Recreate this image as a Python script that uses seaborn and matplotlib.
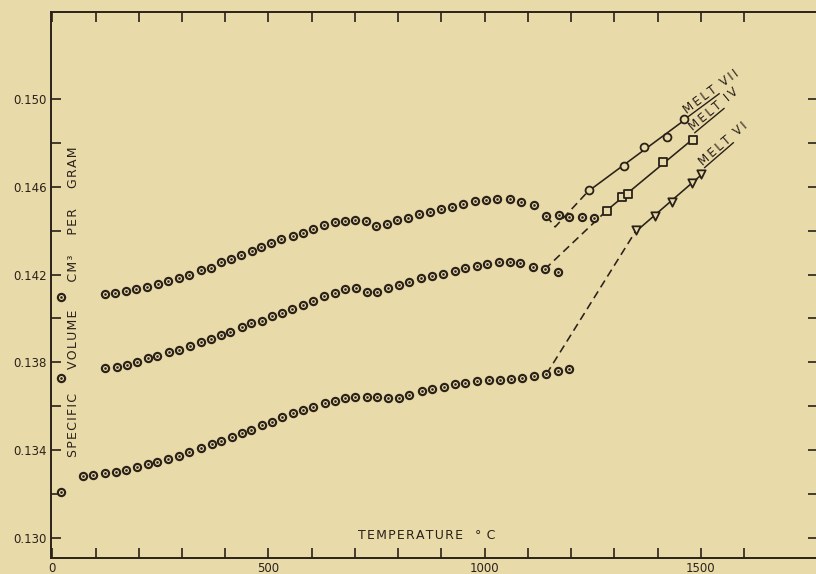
import numpy as np
import pandas as pd
import matplotlib
matplotlib.use("Agg")
import matplotlib.pyplot as plt
from matplotlib.font_manager import FontProperties
import seaborn as sns

# Heating curves: specific volume (cm^3 per gram) against temperature (deg C)
temp_vii = [20, 122, 146, 171, 194, 218, 244, 267, 292, 317, 343, 367, 391, 414, 437,
            461, 483, 506, 529, 556, 579, 604, 628, 653, 676, 701, 726, 749, 773, 798,
            823, 848, 874, 900, 925, 950, 977, 1004, 1029, 1058, 1085, 1114, 1143, 1171,
            1195, 1226, 1252]
vol_vii = [0.14097, 0.14110, 0.14118, 0.14125, 0.14133, 0.14145, 0.14156, 0.14172, 0.14183,
           0.14198, 0.14221, 0.14231, 0.14256, 0.14272, 0.14289, 0.14308, 0.14324, 0.14345,
           0.14361, 0.14376, 0.14391, 0.14408, 0.14426, 0.14438, 0.14446, 0.14449, 0.14446,
           0.14423, 0.14431, 0.14449, 0.14459, 0.14476, 0.14487, 0.14497, 0.14509, 0.14522,
           0.14537, 0.14540, 0.14543, 0.14543, 0.14532, 0.14517, 0.14467, 0.14472, 0.14462,
           0.14462, 0.14458]

temp_iv = [20, 123, 150, 172, 196, 221, 242, 269, 292, 319, 344, 367, 391, 412, 438, 460,
           485, 509, 532, 555, 579, 604, 628, 653, 678, 703, 728, 751, 776, 802, 826, 852,
           879, 904, 931, 954, 982, 1006, 1033, 1058, 1081, 1112, 1139, 1170]
vol_iv = [0.13728, 0.13773, 0.13780, 0.13790, 0.13803, 0.13819, 0.13829, 0.13846, 0.13856,
          0.13875, 0.13892, 0.13905, 0.13925, 0.13940, 0.13963, 0.13978, 0.13990, 0.14013,
          0.14026, 0.14042, 0.14060, 0.14081, 0.14104, 0.14118, 0.14134, 0.14138, 0.14122,
          0.14122, 0.14138, 0.14153, 0.14168, 0.14183, 0.14194, 0.14203, 0.14218, 0.14228,
          0.14241, 0.14250, 0.14256, 0.14256, 0.14251, 0.14235, 0.14224, 0.14210]

temp_vi = [20, 70, 93, 123, 148, 171, 195, 221, 242, 267, 292, 317, 344, 370, 391, 415,
           438, 460, 485, 509, 532, 556, 579, 604, 630, 653, 678, 701, 727, 750, 776, 801,
           826, 854, 879, 905, 931, 955, 983, 1009, 1035, 1060, 1087, 1114, 1143, 1170, 1195]
vol_vi = [0.13211, 0.13282, 0.13287, 0.13295, 0.13301, 0.13310, 0.13322, 0.13336, 0.13346,
          0.13360, 0.13374, 0.13392, 0.13409, 0.13428, 0.13442, 0.13462, 0.13477, 0.13492,
          0.13513, 0.13528, 0.13551, 0.13569, 0.13583, 0.13599, 0.13614, 0.13626, 0.13636,
          0.13642, 0.13644, 0.13641, 0.13638, 0.13640, 0.13651, 0.13670, 0.13681, 0.13690,
          0.13700, 0.13708, 0.13715, 0.13718, 0.13721, 0.13724, 0.13731, 0.13736, 0.13747,
          0.13761, 0.13770]

# Liquid (melt) measurements
melt_vii_t = [1241, 1323, 1369, 1421, 1461]
melt_vii_v = [0.14583, 0.14693, 0.14783, 0.14828, 0.14909]
melt_iv_t = [1282, 1318, 1332, 1412, 1482]
melt_iv_v = [0.14491, 0.14552, 0.14568, 0.14713, 0.14813]
melt_vi_t = [1351, 1394, 1433, 1479, 1500]
melt_vi_v = [0.14403, 0.14469, 0.14531, 0.14617, 0.14656]

# Dashed melting paths from the solid curves to the melts
link_vii_t = [1143, 1163, 1241]
link_vii_v = [0.14467, 0.14417, 0.14583]
link_iv_t = [1139, 1282]
link_iv_v = [0.14224, 0.14491]
link_vi_t = [1143, 1351]
link_vi_v = [0.13747, 0.14403]

melt_names = ["MELT VII", "MELT IV", "MELT VI"]

x_ticks = list(range(0, 1700, 100))
x_tick_text = {0: "0", 500: "500", 1000: "1000", 1500: "1500"}
y_ticks = [0.130, 0.132, 0.134, 0.136, 0.138, 0.140, 0.142, 0.144, 0.146, 0.148, 0.150]
y_tick_text = {0.130: "0.130", 0.134: "0.134", 0.138: "0.138",
               0.142: "0.142", 0.146: "0.146", 0.150: "0.150"}

PAPER = "#E8DAA9"
INK = "#2A2119"
THIN = "\u2009"
HAIR = "\u200a"


def spaced(word, gap=HAIR):
    return gap.join(word)


sns.set_theme(style="ticks")
plt.rcParams["font.family"] = ["DejaVu Sans"]

fig = plt.figure(figsize=(8.16, 5.74), dpi=100, facecolor=PAPER)
ax = fig.add_axes([51 / 816, 16 / 574, 767 / 816, 546 / 574])
ax.set_facecolor(PAPER)
ax.set_xlim(-3, 1771)
ax.set_ylim(0.12909, 0.15396)

# solid-state heating curves: ringed dots
for t, v in [(temp_vii, vol_vii), (temp_iv, vol_iv), (temp_vi, vol_vi)]:
    df = pd.DataFrame({"temperature": t, "volume": v})
    sns.scatterplot(data=df, x="temperature", y="volume", marker="o", s=27,
                    color=PAPER, edgecolor=INK, linewidth=1.55, zorder=4, ax=ax)
    sns.scatterplot(data=df, x="temperature", y="volume", marker="o", s=3.5,
                    color=INK, linewidth=0, zorder=5, ax=ax)

# dashed paths into the melt
for t, v in [(link_vii_t, link_vii_v), (link_iv_t, link_iv_v), (link_vi_t, link_vi_v)]:
    sns.lineplot(x=t, y=v, sort=False, estimator=None, color=INK, lw=1.15,
                 linestyle=(0, (5, 3)), zorder=3, ax=ax)

# melt lines with their markers
melts = [(melt_vii_t, melt_vii_v, "o", 32), (melt_iv_t, melt_iv_v, "s", 28),
         (melt_vi_t, melt_vi_v, "v", 36)]
for t, v, mk, size in melts:
    sns.regplot(x=t, y=v, scatter=False, ci=None, truncate=True, color=INK,
                line_kws=dict(lw=1.15, zorder=3), ax=ax)
    sns.scatterplot(x=t, y=v, marker=mk, s=size, color=PAPER, edgecolor=INK,
                    linewidth=1.3, zorder=4, ax=ax)

# axes styling
ax.set_xticks(x_ticks)
ax.set_xticklabels([x_tick_text.get(t, "") for t in x_ticks])
ax.set_yticks(y_ticks)
ax.set_yticklabels([y_tick_text.get(round(t, 3), "") for t in y_ticks])
ax.tick_params(axis="both", which="both", direction="in", length=7.5, width=1.2,
               top=True, right=True, labeltop=False, labelright=False,
               color=INK, labelcolor=INK, labelsize=8.5, pad=3)
for sp in ax.spines.values():
    sp.set_color(INK)
    sp.set_linewidth(1.4)
ax.set_xlabel("")
ax.set_ylabel("")

# axis titles written inside the frame
ylab = (spaced("SPECIFIC") + " " * 6 + spaced("VOLUME") + " " * 7 + spaced("CM³")
        + " " * 5 + spaced("PER") + " " * 5 + spaced("GRAM"))
ax.text(0.0287, 0.185, ylab, rotation=90, transform=ax.transAxes, ha="center",
        va="bottom", fontsize=9, color=INK)
xlab = spaced("TEMPERATURE") + "   °" + HAIR + " C"
ax.text(0.4003, 0.0421, xlab, transform=ax.transAxes, ha="left", va="center",
        fontsize=9, color=INK)

# rotated melt labels with underlined MELT
renderer = fig.canvas.get_renderer()
label_fs = 8.5
melt_w = renderer.get_text_width_height_descent(spaced("MELT", THIN),
                                                FontProperties(size=label_fs), ismath=False)[0]
offsets = [(3, 6), (0, 8), (2, 9.5)]
for (t, v, _, _), name, (dx, dy) in zip(melts, melt_names, offsets):
    slope, icpt = np.polyfit(t, v, 1)
    p0 = ax.transData.transform((min(t), slope * min(t) + icpt))
    p1 = ax.transData.transform((max(t), slope * max(t) + icpt))
    ang = np.degrees(np.arctan2(p1[1] - p0[1], p1[0] - p0[0]))
    anchor = p1 + np.array([dx, dy])
    ax_xy = ax.transData.inverted().transform(anchor)
    word, num = name.split()
    ax.text(ax_xy[0], ax_xy[1], spaced(word, THIN) + "  " + spaced(num, THIN),
            rotation=ang, rotation_mode="anchor", ha="left", va="baseline",
            fontsize=label_fs, color=INK)
    u = np.array([np.cos(np.radians(ang)), np.sin(np.radians(ang))])
    n = np.array([u[1], -u[0]])
    seg = np.array([anchor + n * 2.5, anchor + n * 2.5 + u * melt_w])
    seg_d = ax.transData.inverted().transform(seg)
    ax.plot(seg_d[:, 0], seg_d[:, 1], color=INK, lw=1.0)

fig.savefig("out.png", dpi=100, facecolor=PAPER)
